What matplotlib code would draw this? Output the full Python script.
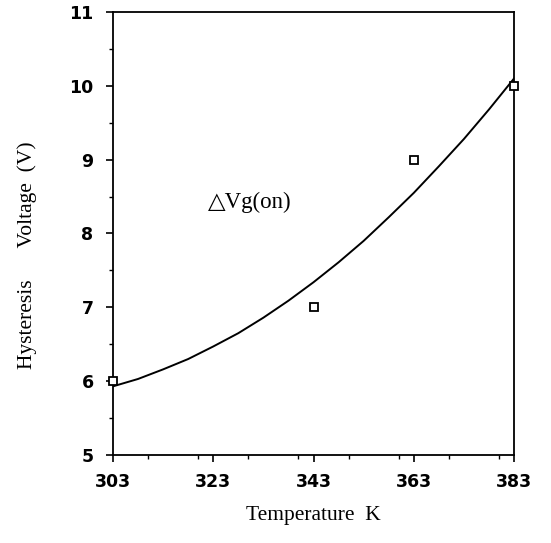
import matplotlib
matplotlib.use("Agg")
import matplotlib.pyplot as plt
from matplotlib.ticker import MultipleLocator

# measured points (open squares)
temp_pts = [303, 343, 363, 383]
dvg_pts = [6.0, 7.0, 9.0, 10.0]

# fitted curve
temp_curve = [303, 308, 313, 318, 323, 328, 333, 338, 343,
              348, 353, 358, 363, 368, 373, 378, 383]
dvg_curve = [5.93, 6.03, 6.16, 6.30, 6.47, 6.65, 6.86, 7.09, 7.34,
             7.61, 7.90, 8.22, 8.55, 8.91, 9.28, 9.68, 10.10]

x_ticks = [303, 323, 343, 363, 383]
y_ticks = [5, 6, 7, 8, 9, 10, 11]

fig = plt.figure(figsize=(5.51, 5.43), dpi=100)
ax = fig.add_axes([0.205, 0.162, 0.728, 0.816])

ax.plot(temp_curve, dvg_curve, color="black", lw=1.4)
ax.plot(temp_pts, dvg_pts, "s", ms=5.5, mfc="white", mec="black", mew=1.3,
        clip_on=False, zorder=3)

ax.set_xlim(303, 383)
ax.set_ylim(5, 11)
ax.set_xticks(x_ticks)
ax.set_yticks(y_ticks)
ax.set_xticklabels([str(v) for v in x_ticks])
ax.set_yticklabels([str(v) for v in y_ticks])
ax.xaxis.set_minor_locator(MultipleLocator(10))
ax.yaxis.set_minor_locator(MultipleLocator(0.5))
ax.tick_params(which="major", direction="out", length=5, width=1.2,
               labelsize=12.5)
ax.tick_params(axis="y", which="major", pad=9)
ax.tick_params(axis="x", which="major", pad=8)
ax.tick_params(which="minor", direction="out", length=3, width=1.0)
for lab in ax.get_xticklabels() + ax.get_yticklabels():
    lab.set_fontweight("bold")

for sp in ax.spines.values():
    sp.set_linewidth(1.3)

serif = ["Liberation Serif", "DejaVu Serif"]
ax.set_xlabel("Temperature  K", family=serif, fontsize=15.5)
ax.xaxis.set_label_coords(0.5, -0.115)
ax.set_ylabel("Hysteresis      Voltage  (V)", family=serif, fontsize=15.5)
ax.yaxis.set_label_coords(-0.19, 0.45)

ax.text(322, 8.42, "\u25b3Vg(on)", family=serif, fontsize=16.5,
        va="center", ha="left")

fig.savefig("out.png", dpi=100)
